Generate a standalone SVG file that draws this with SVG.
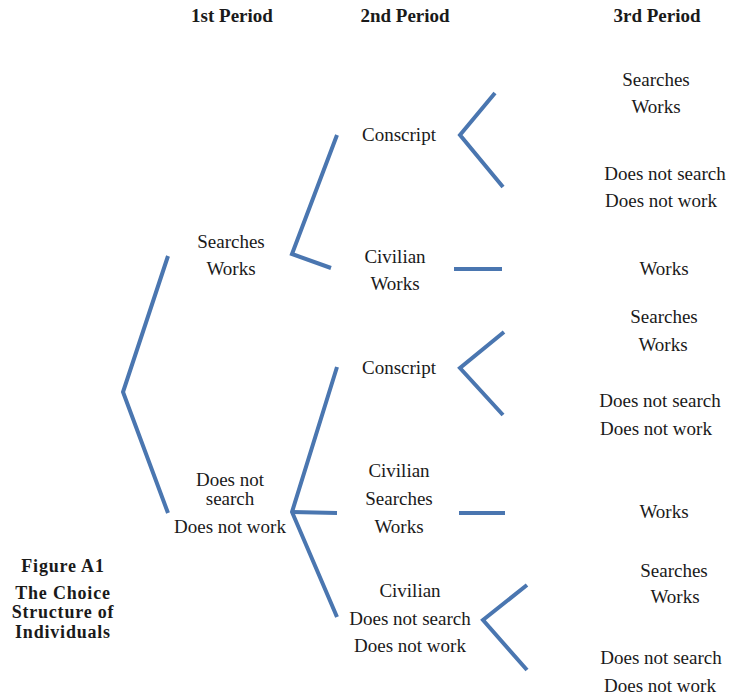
<svg xmlns="http://www.w3.org/2000/svg" width="731" height="700" viewBox="0 0 731 700">
<style>
text{font-family:"Liberation Serif","Times New Roman",serif;font-size:19px;fill:#1a1a1a;text-anchor:middle}
.h{font-weight:bold}
.fig{font-weight:bold;font-size:18px;letter-spacing:0.8px}
.c line,.c polyline{stroke:#4a76b0;stroke-width:4;fill:none;stroke-linejoin:miter}
</style>
<rect width="731" height="700" fill="#fff"/>
<g id="headers">
<text class="h" x="232" y="22">1st Period</text>
<text class="h" x="405" y="22">2nd Period</text>
<text class="h" x="657" y="22">3rd Period</text>
</g>
<g id="connectors" class="c">
<polyline points="168,256 123,392 168,513"/>
<polyline points="337,135 292,254 331,268"/>
<polyline points="337,367 292,512 337,617"/>
<line x1="292" y1="512" x2="337" y2="513"/>
<polyline points="495,93 460,135 503,187"/>
<line x1="454" y1="269" x2="502" y2="269"/>
<polyline points="504,332 460,368 503,415"/>
<line x1="459" y1="513" x2="505" y2="513"/>
<polyline points="527,585 483,620 527,670"/>
</g>
<g id="n1-search"><text x="231" y="248">Searches</text><text x="231" y="275">Works</text></g>
<g id="n1-nosearch"><text x="230" y="486">Does not</text><text x="230" y="505">search</text><text x="230" y="533">Does not work</text></g>
<g id="n2-conscript-a"><text x="399" y="141">Conscript</text></g>
<g id="n2-civilian-a"><text x="395" y="263">Civilian</text><text x="395" y="290">Works</text></g>
<g id="n2-conscript-b"><text x="399" y="374">Conscript</text></g>
<g id="n2-civilian-b"><text x="399" y="477">Civilian</text><text x="399" y="505">Searches</text><text x="399" y="533">Works</text></g>
<g id="n2-civilian-c"><text x="410" y="597">Civilian</text><text x="410" y="625">Does not search</text><text x="410" y="652">Does not work</text></g>
<g id="n3-a1"><text x="656" y="86">Searches</text><text x="656" y="113">Works</text></g>
<g id="n3-a2"><text x="665" y="180">Does not search</text><text x="661" y="207">Does not work</text></g>
<g id="n3-b"><text x="664" y="275">Works</text></g>
<g id="n3-c1"><text x="664" y="323">Searches</text><text x="663" y="351">Works</text></g>
<g id="n3-c2"><text x="660" y="407">Does not search</text><text x="656" y="435">Does not work</text></g>
<g id="n3-d"><text x="664" y="518">Works</text></g>
<g id="n3-e1"><text x="674" y="577">Searches</text><text x="675" y="603">Works</text></g>
<g id="n3-e2"><text x="661" y="664">Does not search</text><text x="660" y="692">Does not work</text></g>
<g id="caption">
<text class="fig" x="63" y="572">Figure A1</text>
<text class="fig" x="63" y="599">The Choice</text>
<text class="fig" x="63" y="618">Structure of</text>
<text class="fig" x="63" y="638">Individuals</text>
</g>
</svg>
